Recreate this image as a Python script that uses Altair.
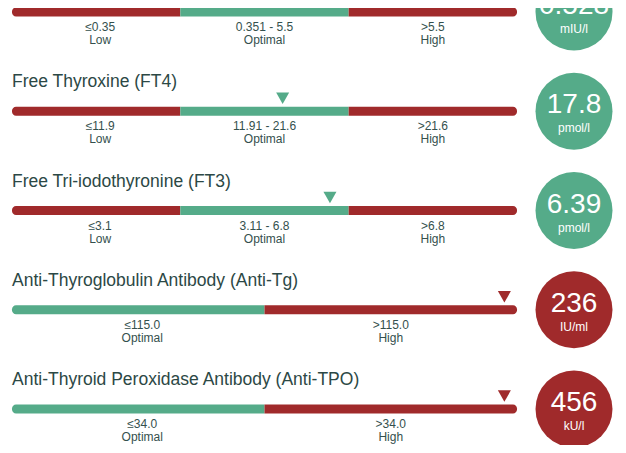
import altair as alt
import pandas as pd

# ---------------- data ----------------
row_titles = [
    "Thyroid Stimulating Hormone (TSH)",
    "Free Thyroxine (FT4)",
    "Free Tri-iodothyronine (FT3)",
    "Anti-Thyroglobulin Antibody (Anti-Tg)",
    "Anti-Thyroid Peroxidase Antibody (Anti-TPO)",
]
result_values = [0.528, 17.8, 6.39, 236, 456]
result_labels = ["0.528", "17.8", "6.39", "236", "456"]
result_units = ["mIU/l", "pmol/l", "pmol/l", "IU/ml", "kU/l"]
segment_bounds = [
    [(None, 0.35), (0.351, 5.5), (5.5, None)],
    [(None, 11.9), (11.91, 21.6), (21.6, None)],
    [(None, 3.1), (3.11, 6.8), (6.8, None)],
    [(None, 115.0), (115.0, None)],
    [(None, 34.0), (34.0, None)],
]
segment_texts = [
    ["≤0.35", "0.351 - 5.5", ">5.5"],
    ["≤11.9", "11.91 - 21.6", ">21.6"],
    ["≤3.1", "3.11 - 6.8", ">6.8"],
    ["≤115.0", ">115.0"],
    ["≤34.0", ">34.0"],
]
segment_names = [
    ["Low", "Optimal", "High"],
    ["Low", "Optimal", "High"],
    ["Low", "Optimal", "High"],
    ["Optimal", "High"],
    ["Optimal", "High"],
]

# ---------------- layout / style ----------------
SCALE_MAX = 6.0
OPEN_END_FRAC = 0.95
GREEN = "#55ab89"
RED = "#a02a2b"
TITLE_COLOR = "#2c4845"
LABEL_COLOR = "#34504d"
FONT = "Liberation Sans"
W, H = 610, 437
CIRCLE_X = 566

seg_rows, row_rows = [], []
for i, (title, v, vl, unit, bounds, texts, names) in enumerate(
    zip(row_titles, result_values, result_labels, result_units,
        segment_bounds, segment_texts, segment_names)):
    n = len(bounds)
    w = SCALE_MAX / n
    marker, status = None, None
    for k, ((lo, hi), t, nm) in enumerate(zip(bounds, texts, names)):
        pos = "first" if k == 0 else ("last" if k == n - 1 else "mid")
        st = "ok" if nm == "Optimal" else "bad"
        seg_rows.append(dict(row=i, x0=k * w, x1=(k + 1) * w, xm=(k + 0.5) * w,
                             status=st, pos=pos, t1=t, t2=nm))
        lo_ = lo if lo is not None else 0.0
        inside = (lo is None or v >= lo) and (hi is None or v <= hi)
        if marker is None and inside:
            frac = OPEN_END_FRAC if hi is None else (v - lo_) / (hi - lo_)
            marker = k * w + w * frac
            status = st
    row_rows.append(dict(row=i, title=title, marker=marker, status=status,
                         vlabel=vl, unit=unit))

seg = pd.DataFrame(seg_rows)
rows = pd.DataFrame(row_rows)

xs = alt.Scale(domain=[0, SCALE_MAX], range=[4, 509], padding=0, nice=False, zero=False)
ys = alt.Scale(domain=[0, 4], range=[4, 401], padding=0, nice=False, zero=False)
Y = alt.Y("row:Q", scale=ys, axis=None)
col = alt.Color("status:N", scale=alt.Scale(domain=["ok", "bad"], range=[GREEN, RED]), legend=None)

base_seg = alt.Chart(seg)
bar_enc = dict(x=alt.X("x0:Q", scale=xs, axis=None), x2="x1:Q", y=Y, color=col)
bars_first = base_seg.mark_bar(height=9, cornerRadiusTopLeft=4, cornerRadiusBottomLeft=4).encode(**bar_enc).transform_filter(alt.datum.pos == "first")
bars_mid = base_seg.mark_bar(height=9).encode(**bar_enc).transform_filter(alt.datum.pos == "mid")
bars_last = base_seg.mark_bar(height=9, cornerRadiusTopRight=4, cornerRadiusBottomRight=4).encode(**bar_enc).transform_filter(alt.datum.pos == "last")


def seg_labels(field, dy, first):
    c = base_seg.mark_text(align="center", baseline="alphabetic", dy=dy, dx=4 if first else 0,
                           fontSize=12, font=FONT, color=LABEL_COLOR).encode(
        x=alt.X("xm:Q", scale=xs, axis=None), y=Y, text=f"{field}:N")
    return c.transform_filter(alt.datum.pos == "first" if first else alt.datum.pos != "first")


labels = [seg_labels("t1", 19, True), seg_labels("t1", 19, False),
          seg_labels("t2", 32, True), seg_labels("t2", 32, False)]

base_row = alt.Chart(rows)
titles = base_row.mark_text(align="left", baseline="alphabetic", dy=-24, fontSize=17.5, font=FONT, color=TITLE_COLOR).encode(
    x=alt.value(4), y=Y, text="title:N")
markers = base_row.mark_point(shape="triangle-down", filled=True, size=170, opacity=1, yOffset=-13).encode(
    x=alt.X("marker:Q", scale=xs, axis=None), y=Y, color=col)
circles = base_row.mark_point(shape="circle", filled=True, size=77 * 77, opacity=1).encode(
    x=alt.value(CIRCLE_X), y=Y, color=col)
vals = base_row.mark_text(align="center", baseline="alphabetic", dy=2, fontSize=28, font=FONT, color="white").encode(
    x=alt.value(CIRCLE_X), y=Y, text="vlabel:N")
units = base_row.mark_text(align="center", baseline="alphabetic", dy=21, fontSize=12, font=FONT, color="white").encode(
    x=alt.value(CIRCLE_X), y=Y, text="unit:N")

chart = alt.layer(
    bars_first, bars_mid, bars_last, *labels, titles, markers, circles, vals, units
).properties(
    width=W, height=H, autosize=alt.AutoSizeParams(type="none"), padding=0
).configure_view(stroke=None)

chart.save("out.html", embed_options={"renderer": "svg", "actions": False})
